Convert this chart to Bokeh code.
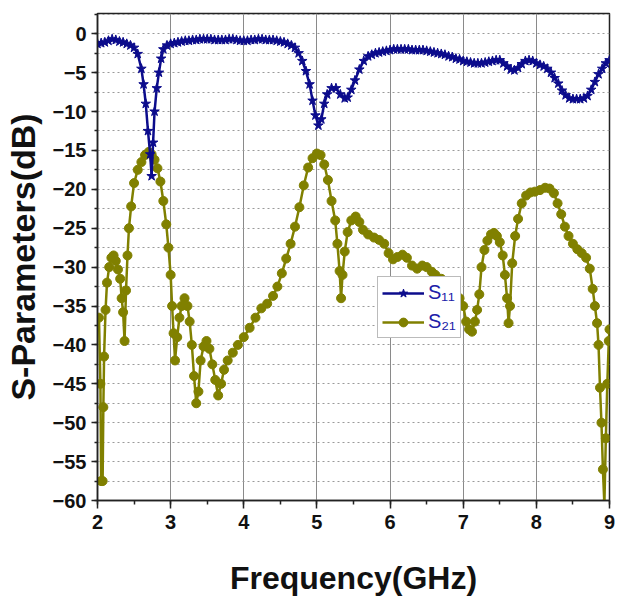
from bokeh.plotting import figure
from bokeh.models import Range1d, SingleIntervalTicker, Legend, LegendItem
from bokeh.embed import file_html
from bokeh.resources import INLINE

# ---- data ----
s11_freq = [2.00, 2.05, 2.10, 2.15, 2.20, 2.25, 2.30, 2.35, 2.40, 2.45, 2.50, 2.55, 2.60, 2.63, 2.66,
            2.69, 2.72, 2.74, 2.76, 2.78, 2.81, 2.84, 2.87, 2.90, 2.95, 3.00, 3.05, 3.10, 3.15, 3.20, 3.25,
            3.30, 3.35, 3.40, 3.45, 3.50, 3.55, 3.60, 3.65, 3.70, 3.75, 3.80, 3.85, 3.90, 3.95, 4.00,
            4.05, 4.10, 4.15, 4.20, 4.25, 4.30, 4.35, 4.40, 4.45, 4.50, 4.55, 4.60, 4.65, 4.70, 4.75, 4.80,
            4.85, 4.90, 4.94, 4.98, 5.02, 5.06, 5.10, 5.14, 5.20, 5.26, 5.32, 5.38, 5.42, 5.47, 5.52,
            5.58, 5.64, 5.70, 5.75, 5.80, 5.85, 5.90, 5.95, 6.00, 6.05, 6.10, 6.15, 6.20, 6.25, 6.30, 6.35,
            6.40, 6.45, 6.50, 6.55, 6.60, 6.65, 6.70, 6.75, 6.80, 6.85, 6.90, 6.95,
            7.00, 7.05, 7.10, 7.15, 7.20, 7.25, 7.30, 7.35, 7.40, 7.45, 7.50, 7.55, 7.60, 7.65, 7.70,
            7.75, 7.80, 7.85, 7.90, 7.95,
            8.00, 8.05, 8.10, 8.15, 8.20, 8.25, 8.30, 8.35, 8.40, 8.45, 8.50, 8.55, 8.60, 8.65, 8.70,
            8.75, 8.80, 8.85, 8.90, 8.95, 9.00]
s11_db = [-1.3, -1.2, -1.1, -0.9, -0.7, -0.8, -1.0, -1.1, -1.3, -1.5, -1.8, -2.6, -4.5, -6.5, -9.0,
          -12.5, -15.5, -18.3, -14.0, -10.0, -7.0, -5.0, -3.2, -2.0, -1.5, -1.3, -1.2, -1.1, -1.0, -0.9, -0.9,
          -0.8, -0.8, -0.7, -0.7, -0.7, -0.7, -0.8, -0.8, -0.8, -0.8, -0.7, -0.7, -0.8, -0.9, -0.9,
          -0.9, -0.8, -0.8, -0.7, -0.7, -0.8, -0.8, -0.8, -0.9, -1.0, -1.1, -1.3, -1.5, -1.8, -2.5, -3.5,
          -4.8, -6.5, -8.6, -10.5, -11.8, -11.0, -9.0, -7.8, -7.0, -7.0, -7.8, -8.3, -8.2, -7.2, -6.0,
          -4.6, -3.5, -2.9, -2.7, -2.5, -2.4, -2.3, -2.2, -2.1, -2.0, -2.0, -2.0, -2.0, -2.0, -2.1, -2.1,
          -2.1, -2.1, -2.2, -2.3, -2.4, -2.5, -2.6, -2.7, -2.9, -3.0, -3.2, -3.3,
          -3.5, -3.6, -3.7, -3.8, -3.8, -3.8, -3.7, -3.6, -3.5, -3.4, -3.4, -3.8, -4.2, -4.6, -4.7,
          -4.4, -3.9, -3.5, -3.4, -3.5,
          -3.8, -4.0, -4.2, -4.5, -5.0, -5.7, -6.4, -7.3, -7.9, -8.3, -8.4, -8.4, -8.4, -8.3, -8.0,
          -7.2, -6.2, -5.2, -4.5, -3.8, -3.4]

s21_freq = [2.02, 2.04, 2.05, 2.07, 2.08, 2.09, 2.11, 2.13, 2.16, 2.19, 2.22, 2.25, 2.28, 2.31, 2.33,
            2.35, 2.37, 2.39, 2.41, 2.43, 2.46, 2.50, 2.55, 2.60, 2.65, 2.70, 2.74, 2.78, 2.82, 2.86,
            2.90, 2.94, 2.97, 3.00, 3.02, 3.04, 3.06, 3.09, 3.12, 3.15, 3.19, 3.23, 3.26, 3.29, 3.32,
            3.35, 3.38, 3.41, 3.45, 3.49, 3.53, 3.57, 3.61, 3.65, 3.69, 3.73, 3.78, 3.85, 3.92, 4.00,
            4.08, 4.16, 4.24, 4.32, 4.40, 4.46, 4.52, 4.58, 4.64, 4.70, 4.76, 4.82, 4.88, 4.94, 5.00,
            5.05, 5.10, 5.15, 5.20, 5.25, 5.28, 5.31, 5.33, 5.35, 5.38, 5.42, 5.47, 5.53, 5.58, 5.63,
            5.70, 5.78, 5.85, 5.92, 5.98, 6.04, 6.10, 6.17, 6.23, 6.30, 6.37, 6.44, 6.50, 6.57, 6.62,
            6.70, 6.80, 6.90, 6.95, 7.00, 7.04, 7.08, 7.12, 7.16, 7.19, 7.22, 7.25, 7.29, 7.33, 7.38,
            7.42, 7.46, 7.50, 7.54, 7.57, 7.60, 7.62, 7.64, 7.67, 7.71, 7.75, 7.80, 7.86, 7.92, 7.98,
            8.05, 8.12, 8.18, 8.24, 8.29, 8.34, 8.39, 8.44, 8.50, 8.56, 8.62, 8.68, 8.73, 8.77, 8.80,
            8.83, 8.85, 8.87, 8.89, 8.91, 8.93, 8.95, 8.97, 8.99, 9.00]
s21_db = [-36.5, -45.0, -57.5, -57.5, -48.0, -41.5, -35.5, -32.0, -30.0, -28.8, -28.5, -29.2, -30.3, -31.5, -34.0,
          -35.8, -39.5, -33.0, -28.5, -25.0, -22.2, -19.2, -17.5, -16.5, -15.6, -15.2, -15.5, -16.2, -17.3, -19.0,
          -21.5, -24.5, -27.5, -31.0, -35.0, -38.5, -42.0, -39.0, -36.5, -35.0, -34.0, -35.0, -37.0, -40.0, -44.0,
          -47.5, -46.0, -42.0, -40.2, -39.5, -40.5, -42.5, -44.5, -46.5, -45.0, -43.2, -42.0, -41.0, -40.0, -39.0,
          -37.8, -36.5, -35.3, -34.7, -33.7, -32.5, -30.8, -28.9, -27.0, -24.8, -22.3, -19.5, -17.2, -16.0, -15.4,
          -15.6, -16.8, -18.8, -21.5, -24.0, -27.0, -30.5, -34.0, -31.0, -28.0, -25.5, -24.0, -23.5, -24.2, -25.2,
          -25.8, -26.2, -26.5, -27.0, -28.2, -29.0, -28.7, -28.4, -28.8, -29.8, -30.2, -29.8, -30.0, -30.6, -31.0,
          -31.5, -33.0, -34.0, -34.0, -35.0, -37.0, -38.0, -38.3, -37.0, -35.5, -33.5, -30.0, -27.8, -26.6, -25.8,
          -25.6, -26.0, -26.8, -28.5, -31.0, -34.0, -37.2, -35.0, -29.5, -26.0, -23.8, -21.8, -20.8, -20.4, -20.3,
          -20.1, -19.8, -19.9, -20.5, -21.8, -23.2, -24.8, -26.0, -27.0, -27.7, -28.2, -28.8, -30.2, -32.8, -35.0,
          -37.2, -40.0, -45.5, -50.0, -56.0, -60.5, -52.0, -45.0, -39.5, -38.0]

y_ticks = [-60, -55, -50, -45, -40, -35, -30, -25, -20, -15, -10, -5, 0]
x_ticks = [2, 3, 4, 5, 6, 7, 8, 9]
series_labels = ["S\u2081\u2081", "S\u2082\u2081"]

S11_COLOR = "#0c0c8c"
S21_COLOR = "#808000"

p = figure(frame_width=512, frame_height=487,
           min_border_left=97, min_border_right=8, min_border_top=13, min_border_bottom=96,
           x_range=Range1d(2, 9), y_range=Range1d(-60, 2.6),
           output_backend="svg", toolbar_location=None, background_fill_color="white",
           border_fill_color="white")

r21l = p.line(s21_freq, s21_db, line_color=S21_COLOR, line_width=2.5)
r21m = p.scatter(s21_freq, s21_db, marker="circle", size=9, fill_color=S21_COLOR, line_color=S21_COLOR)
r11l = p.line(s11_freq, s11_db, line_color=S11_COLOR, line_width=2.5)
r11m = p.scatter(s11_freq, s11_db, marker="star", size=10, fill_color=S11_COLOR, line_color=S11_COLOR)

# axes
p.xaxis.ticker = SingleIntervalTicker(interval=1, num_minor_ticks=2)
p.yaxis.ticker = SingleIntervalTicker(interval=5, num_minor_ticks=2)
p.yaxis.major_label_overrides = {t: str(t).replace("-", "\u2212") for t in y_ticks}
p.xaxis.major_label_overrides = {t: str(t) for t in x_ticks}

for ax in (p.xaxis[0], p.yaxis[0]):
    ax.axis_line_width = 1.5
    ax.axis_line_color = "#222222"
    ax.major_tick_line_color = "#222222"
    ax.minor_tick_line_color = "#222222"
    ax.major_tick_line_width = 1.5
    ax.minor_tick_line_width = 1.5
    ax.major_tick_in = 0
    ax.minor_tick_in = 0
    ax.major_label_text_font = "Liberation Sans"
    ax.major_label_text_font_style = "bold"
    ax.major_label_text_color = "#111111"
    ax.axis_label_text_font = "Liberation Sans"
    ax.axis_label_text_font_style = "bold"
    ax.axis_label_text_color = "#111111"

p.xaxis.major_tick_out = 8
p.xaxis.minor_tick_out = 4
p.yaxis.major_tick_out = 6
p.yaxis.minor_tick_out = 3
p.xaxis.major_label_text_font_size = "20px"
p.yaxis.major_label_text_font_size = "20px"
p.xaxis.major_label_standoff = 6
p.yaxis.major_label_standoff = 5
p.xaxis.axis_label = "Frequency(GHz)"
p.yaxis.axis_label = "S-Parameters(dB)"
p.xaxis.axis_label_text_font_size = "32px"
p.yaxis.axis_label_text_font_size = "34px"
p.xaxis.axis_label_standoff = 28
p.yaxis.axis_label_standoff = 8

# grid
p.xgrid.grid_line_color = "#8a8a8a"
p.xgrid.grid_line_width = 1
p.ygrid.grid_line_color = None
p.ygrid.minor_grid_line_color = "#9a9a9a"
p.ygrid.minor_grid_line_dash = "2 3"
p.ygrid.minor_grid_line_width = 1.2

p.outline_line_color = "#222222"
p.outline_line_width = 1.5

legend = Legend(items=[LegendItem(label=series_labels[0], renderers=[r11l, r11m]),
                       LegendItem(label=series_labels[1], renderers=[r21l, r21m])],
                location=(280, 162))
legend.label_text_font = "Liberation Sans"
legend.label_text_font_size = "20px"
legend.label_text_color = "#2020a8"
legend.glyph_width = 42
legend.glyph_height = 22
legend.label_standoff = 4
legend.spacing = 6
legend.padding = 4
legend.margin = 0
legend.border_line_color = "#777777"
legend.border_line_width = 1
legend.background_fill_color = "white"
legend.background_fill_alpha = 1
p.add_layout(legend)

open("out.html", "w").write(file_html(p, INLINE))
